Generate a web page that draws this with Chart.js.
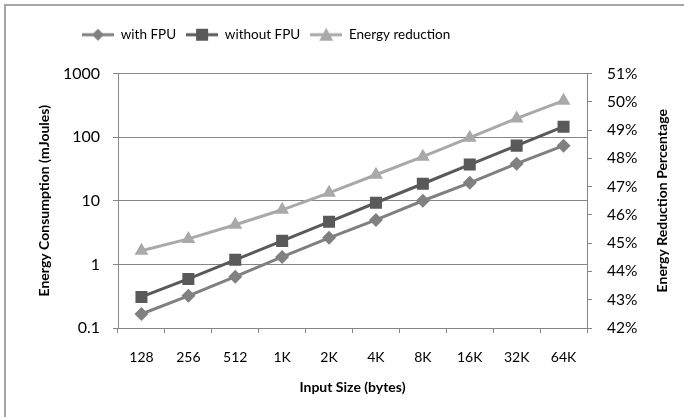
<!DOCTYPE html>
<html lang="en">
<head>
    <meta charset="UTF-8">
    <title>Energy Consumption vs Input Size</title>
    <script src="https://cdn.jsdelivr.net/npm/chart.js"></script>
    <style>
        body {
            margin: 0;
            background: #fff;
        }
        .wrap {
            position: relative;
            width: 684px;
            height: 417px;
            overflow: hidden;
        }
        .frame {
            position: absolute;
            left: 4px;
            top: 4px;
            width: 720px;
            height: 460px;
            border-top: 2px solid #a6a6a6;
            border-left: 2px solid #a6a6a6;
        }
        canvas {
            position: absolute;
            left: 0;
            top: 0;
        }
    </style>
</head>
<body>

    <div class="wrap">
        <div class="frame"></div>
        <canvas id="energyChart" width="684" height="417"></canvas>
    </div>

    <script>
        // values
        const sizes = ['128', '256', '512', '1K', '2K', '4K', '8K', '16K', '32K', '64K'];
        const withFpu = [0.166, 0.32, 0.64, 1.31, 2.61, 5.0, 10.0, 19.1, 38.2, 73.5];
        const withoutFpu = [0.308, 0.59, 1.18, 2.34, 4.67, 9.3, 18.5, 37, 73.5, 146];
        const reduction = [44.73, 45.15, 45.65, 46.18, 46.78, 47.42, 48.06, 48.73, 49.41, 50.04];
        const energyTicks = [0.1, 1, 10, 100, 1000];

        const FONT = 'Lato, "Open Sans", sans-serif';
        const axisGray = '#868686';
        const colWith = '#808080';
        const colWithout = '#595959';
        const colReduction = '#a9a9a9';

        // little line + marker pictures for the legend
        function legendIcon(color, shape) {
            const c = document.createElement('canvas');
            c.width = 32;
            c.height = 18;
            const g = c.getContext('2d');
            g.strokeStyle = color;
            g.fillStyle = color;
            g.lineWidth = 3;
            g.beginPath();
            g.moveTo(0, 9);
            g.lineTo(32, 9);
            g.stroke();
            g.beginPath();
            if (shape === 'diamond') {
                g.moveTo(16, 3); g.lineTo(22, 9); g.lineTo(16, 15); g.lineTo(10, 9);
            } else if (shape === 'square') {
                g.rect(10, 3, 12, 12);
            } else {
                g.moveTo(16, 2); g.lineTo(23, 15); g.lineTo(9, 15);
            }
            g.closePath();
            g.fill();
            return c;
        }
        const icons = [
            legendIcon(colWith, 'diamond'),
            legendIcon(colWithout, 'square'),
            legendIcon(colReduction, 'triangle')
        ];

        // push the plot down a bit and put the legend where Excel had it
        const legendSpace = {
            id: 'legendSpace',
            beforeInit(chart) {
                const fit = chart.legend.fit;
                chart.legend.fit = function () {
                    fit.bind(chart.legend)();
                    this.height += 22;
                };
            },
            afterLayout(chart) {
                chart.legend.left = 72;
            }
        };

        const rightTitle = {
            id: 'rightTitle',
            afterDraw(chart) {
                const ctx = chart.ctx;
                const area = chart.chartArea;
                ctx.save();
                ctx.translate(662, (area.top + area.bottom) / 2);
                ctx.rotate(-Math.PI / 2);
                ctx.font = 'bold 14px ' + FONT;
                ctx.fillStyle = '#000';
                ctx.textAlign = 'center';
                ctx.textBaseline = 'middle';
                ctx.fillText('Energy Reduction Percentage', 0, 0);
                ctx.restore();
            }
        };

        new Chart(document.getElementById('energyChart'), {
            type: 'line',
            data: {
                labels: sizes,
                datasets: [{
                    label: 'with FPU',
                    data: withFpu,
                    yAxisID: 'y',
                    borderColor: colWith,
                    backgroundColor: colWith,
                    borderWidth: 3,
                    pointStyle: 'rectRot',
                    pointRadius: 7,
                    pointBorderWidth: 0
                }, {
                    label: 'without FPU',
                    data: withoutFpu,
                    yAxisID: 'y',
                    borderColor: colWithout,
                    backgroundColor: colWithout,
                    borderWidth: 3,
                    pointStyle: 'rect',
                    pointRadius: 8.5,
                    pointBorderWidth: 0
                }, {
                    label: 'Energy reduction',
                    data: reduction,
                    yAxisID: 'y2',
                    borderColor: colReduction,
                    backgroundColor: colReduction,
                    borderWidth: 3,
                    pointStyle: 'triangle',
                    pointRadius: 8,
                    pointBorderWidth: 0
                }]
            },
            plugins: [legendSpace, rightTitle],
            options: {
                responsive: false,
                animation: false,
                layout: { padding: { top: 18, left: 0, right: 0, bottom: 0 } },
                plugins: {
                    tooltip: { enabled: false },
                    legend: {
                        position: 'top',
                        align: 'start',
                        labels: {
                            usePointStyle: true,
                            pointStyleWidth: 32,
                            boxHeight: 18,
                            padding: 10,
                            color: '#000',
                            font: { family: FONT, size: 13.5 },
                            generateLabels(chart) {
                                const items = Chart.defaults.plugins.legend.labels.generateLabels(chart);
                                items.forEach((it, i) => { it.pointStyle = icons[i]; });
                                return items;
                            }
                        }
                    }
                },
                scales: {
                    x: {
                        offset: true,
                        afterFit: s => { s.height = 89; },
                        grid: {
                            offset: true,
                            drawOnChartArea: false,
                            tickLength: 5,
                            color: axisGray
                        },
                        border: { color: axisGray, width: 1 },
                        ticks: {
                            color: '#000',
                            padding: 16,
                            maxRotation: 0,
                            font: { family: FONT, size: 14 }
                        },
                        title: {
                            display: true,
                            text: 'Input Size (bytes)',
                            color: '#000',
                            font: { family: FONT, size: 14, weight: 'bold' },
                            padding: { top: 4, bottom: 21 }
                        }
                    },
                    y: {
                        type: 'logarithmic',
                        position: 'left',
                        min: 0.1,
                        max: 1000,
                        afterFit: s => { s.width = 118; },
                        afterBuildTicks: s => { s.ticks = energyTicks.map(v => ({ value: v })); },
                        grid: {
                            color: axisGray,
                            tickLength: 5
                        },
                        border: { color: axisGray, width: 1 },
                        ticks: {
                            color: '#000',
                            padding: 13,
                            font: { family: FONT, size: 16 },
                            callback: v => String(v)
                        },
                        title: {
                            display: true,
                            text: 'Energy Consumption (mJoules)',
                            color: '#000',
                            font: { family: FONT, size: 14, weight: 'bold' },
                            padding: { top: 36, bottom: 0 }
                        }
                    },
                    y2: {
                        position: 'right',
                        min: 42,
                        max: 51,
                        afterFit: s => { s.width = 97; },
                        grid: {
                            drawOnChartArea: false,
                            color: axisGray,
                            tickLength: 5
                        },
                        border: { color: axisGray, width: 1 },
                        ticks: {
                            stepSize: 1,
                            color: '#000',
                            padding: 15,
                            font: { family: FONT, size: 15.5 },
                            callback: v => v + '%'
                        }
                    }
                }
            }
        });
    </script>
</body>
</html>
